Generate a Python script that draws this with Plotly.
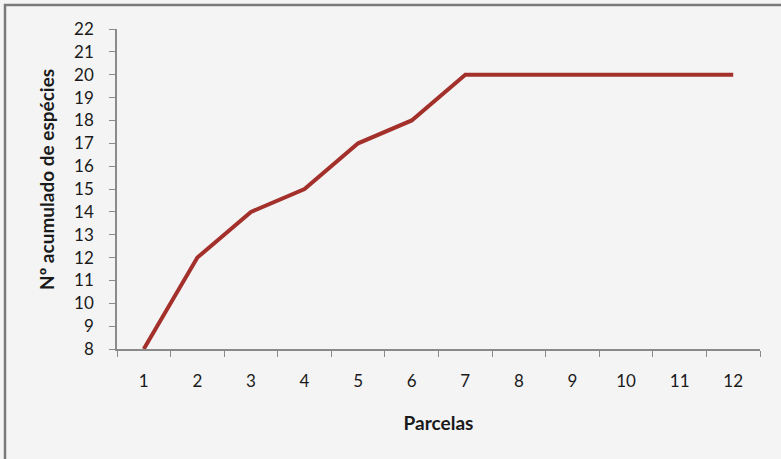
import plotly.graph_objects as go

parcelas = ["1", "2", "3", "4", "5", "6", "7", "8", "9", "10", "11", "12"]
especies = [8, 12, 14, 15, 17, 18, 20, 20, 20, 20, 20, 20]
y_ticks = list(range(8, 23))

W, H = 781, 459
L, R, T, B = 117, 21, 29, 110
PW, PH = W - L - R, H - T - B

fig = go.Figure()
fig.add_trace(go.Scatter(
    x=parcelas, y=especies, mode="lines",
    line=dict(color="#a3302b", width=4),
    cliponaxis=True, showlegend=False,
))

fig.update_layout(
    width=W, height=H,
    margin=dict(l=L, r=R, t=T, b=B),
    paper_bgcolor="#f4f4f4", plot_bgcolor="#f4f4f4",
    font=dict(family="Lato, Open Sans, sans-serif", color="#1a1a1a", size=17),
    xaxis=dict(
        type="category", range=[-0.5, 11.5], automargin=False,
        showgrid=False, showline=True, linecolor="#8a8a8a", linewidth=1.5,
        ticks="outside", tickson="boundaries", ticklen=6, tickcolor="#8a8a8a",
        ticklabelstandoff=16,
        tickfont=dict(size=17),
        title=dict(text="<b>Parcelas</b>", font=dict(size=19), standoff=27),
        zeroline=False,
    ),
    yaxis=dict(
        range=[8, 22], tickvals=y_ticks, automargin=False,
        showgrid=False, showline=True, linecolor="#8a8a8a", linewidth=1.5,
        ticks="outside", ticklen=6, tickcolor="#8a8a8a",
        ticklabelstandoff=12,
        tickfont=dict(size=17),
        zeroline=False,
    ),
    annotations=[dict(
        text="<b>Nº acumulado de espécies</b>", textangle=-90,
        xref="paper", yref="paper",
        x=(46 - L) / PW, y=(H - B - 180) / PH,
        xanchor="center", yanchor="middle", showarrow=False,
        font=dict(size=19, color="#1a1a1a"),
    )],
    shapes=[dict(
        type="rect", xref="paper", yref="paper",
        x0=(5 - L) / PW, x1=(800 - L) / PW,
        y0=(H - B - 480) / PH, y1=(H - B - 5) / PH,
        line=dict(color="#7a7a7a", width=2.5), fillcolor="rgba(0,0,0,0)",
        layer="below",
    )],
)

fig.write_html(
    "out.html",
    config={"displayModeBar": False},
    post_script="document.body.style.margin='0';document.body.style.background='#f4f4f4';"
                "document.documentElement.style.overflow='hidden';",
)
